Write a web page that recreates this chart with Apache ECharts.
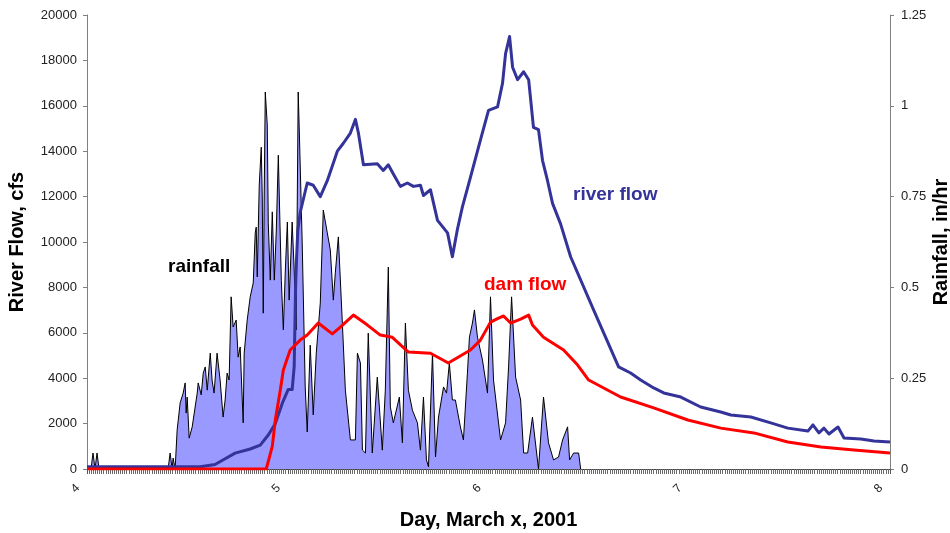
<!DOCTYPE html>
<html>
<head>
<meta charset="utf-8">
<script src="https://cdn.jsdelivr.net/npm/echarts@6/dist/echarts.min.js"></script>
<style>html,body{margin:0;padding:0;background:#fff}#c{width:950px;height:533px}</style>
</head>
<body>
<div id="c"></div>
<script>
// ---- data (day of March 2001, values) ----
const xTicks = [4, 5, 6, 7, 8];
const flowTicks = [0, 2000, 4000, 6000, 8000, 10000, 12000, 14000, 16000, 18000, 20000];
const rainTicks = [0, 0.25, 0.5, 0.75, 1, 1.25];

const rainDays = [4.000,4.020,4.030,4.040,4.050,4.060,4.404,4.414,4.424,4.429,4.439,4.449,4.464,4.479,4.489,4.494,4.499,4.509,4.524,4.549,4.554,4.569,4.579,4.589,4.599,4.614,4.623,4.633,4.648,4.663,4.678,4.688,4.698,4.708,4.718,4.728,4.743,4.753,4.763,4.778,4.783,4.798,4.813,4.828,4.838,4.843,4.848,4.858,4.868,4.873,4.878,4.883,4.888,4.898,4.903,4.913,4.923,4.933,4.943,4.953,4.958,4.968,4.978,4.988,4.998,5.007,5.022,5.032,5.042,5.052,5.057,5.072,5.087,5.097,5.112,5.127,5.142,5.162,5.177,5.197,5.212,5.227,5.237,5.252,5.272,5.287,5.312,5.337,5.347,5.362,5.372,5.387,5.401,5.421,5.446,5.471,5.486,5.501,5.511,5.526,5.556,5.571,5.586,5.601,5.621,5.646,5.661,5.676,5.691,5.701,5.721,5.736,5.751,5.776,5.791,5.805,5.820,5.835,5.860,5.875,5.895,5.905,5.920,5.930,5.945,5.970,5.995,6.010,6.025,6.060,6.085,6.100,6.115,6.135,6.160,6.175,6.195,6.219,6.249,6.274,6.299,6.324,6.349,6.369,6.394,6.404,6.424,6.449,6.459];
const rainValues = [0,0,0.044,0,0.044,0,0,0.044,0,0.030,0,0.107,0.182,0.209,0.237,0.154,0.198,0.085,0.116,0.209,0.237,0.204,0.264,0.281,0.217,0.319,0.245,0.209,0.319,0.245,0.143,0.190,0.264,0.245,0.474,0.391,0.410,0.308,0.336,0.127,0.319,0.410,0.474,0.512,0.650,0.666,0.529,0.782,0.886,0.749,0.429,0.768,1.038,0.947,0.677,0.520,0.708,0.520,0.658,0.864,0.749,0.520,0.383,0.548,0.680,0.465,0.680,0.548,0.383,1.038,0.942,0.622,0.226,0.102,0.341,0.149,0.319,0.457,0.713,0.650,0.603,0.465,0.540,0.639,0.402,0.217,0.080,0.080,0.319,0.292,0.052,0.044,0.374,0.044,0.253,0.052,0.217,0.556,0.171,0.127,0.198,0.072,0.402,0.217,0.162,0.127,0.052,0.198,0.025,0.006,0.319,0.033,0.143,0.226,0.209,0.292,0.190,0.190,0.116,0.080,0.264,0.363,0.402,0.438,0.363,0.300,0.209,0.474,0.245,0.080,0.127,0.281,0.474,0.253,0.190,0.044,0.044,0.143,0,0.198,0.072,0.025,0.033,0.080,0.116,0.025,0.044,0.044,0];

const riverDays = [4.000,4.564,4.638,4.688,4.738,4.813,4.863,4.903,4.938,4.973,5.002,5.022,5.032,5.040,5.050,5.062,5.097,5.127,5.162,5.197,5.247,5.277,5.312,5.337,5.352,5.377,5.446,5.476,5.501,5.526,5.561,5.596,5.626,5.661,5.676,5.711,5.746,5.796,5.820,5.845,5.870,5.910,5.960,6.000,6.045,6.070,6.085,6.105,6.120,6.145,6.175,6.200,6.224,6.249,6.269,6.294,6.319,6.359,6.409,6.524,6.648,6.708,6.758,6.823,6.873,6.958,7.057,7.157,7.207,7.307,7.406,7.491,7.591,7.616,7.646,7.671,7.696,7.741,7.771,7.855,7.920,8.000];
const riverFlow = [100,100,200,450,700,880,1050,1500,2000,2900,3500,3500,4500,8500,10500,11300,12600,12500,12000,12700,14000,14350,14800,15400,14800,13400,13450,13150,13400,13000,12450,12600,12450,12500,12050,12300,10950,10400,9350,10550,11550,12850,14500,15800,15950,17000,18300,19050,17700,17150,17500,17150,15050,14950,13600,12700,11700,10800,9350,7000,4500,4230,3920,3570,3350,3170,2730,2510,2380,2290,2030,1800,1670,1940,1590,1800,1540,1850,1370,1320,1230,1190];

const damDays = [4.000,4.893,4.923,4.938,4.963,4.978,5.012,5.062,5.097,5.152,5.222,5.262,5.327,5.397,5.461,5.521,5.601,5.711,5.800,5.910,5.960,6.010,6.050,6.075,6.110,6.160,6.200,6.219,6.274,6.374,6.444,6.499,6.658,6.823,6.993,7.157,7.322,7.491,7.656,7.820,8.000];
const damFlow = [0,0,1000,2160,3480,4360,5240,5680,5900,6430,5950,6250,6780,6340,5900,5800,5150,5100,4670,5240,5680,6470,6650,6740,6430,6600,6780,6340,5800,5240,4580,3920,3170,2690,2160,1800,1590,1190,970,840,700];

const zip = (a, b) => a.map((v, i) => [v, b[i]]);

const FONT = 'Arial, "Liberation Sans", sans-serif';
const chart = echarts.init(document.getElementById('c'), null, {renderer: 'canvas'});
chart.setOption({
  animation: false,
  backgroundColor: '#ffffff',
  grid: {left: 87, right: 60, top: 15, bottom: 64, containLabel: false, outerBoundsMode: 'none'},
  xAxis: {
    type: 'value', min: xTicks[0], max: xTicks[xTicks.length - 1], interval: 1,
    name: 'Day, March x, 2001', nameLocation: 'middle', nameGap: 41, nameMoveOverlap: false,
    nameTextStyle: {fontFamily: FONT, fontWeight: 'bold', fontSize: 20, color: '#000'},
    axisLine: {onZero: false, lineStyle: {color: '#404040', width: 1}},
    axisTick: {show: true, length: 5, lineStyle: {color: '#555'}},
    minorTick: {show: true, splitNumber: 96, length: 5, lineStyle: {color: '#6a6a6a', width: 1}},
    splitLine: {show: false},
    axisLabel: {rotate: 45, margin: 8, padding: [0, 13, 0, 0], fontFamily: FONT, fontSize: 12, color: '#222',
      formatter: v => String(v)}
  },
  yAxis: [{
    type: 'value', min: flowTicks[0], max: flowTicks[flowTicks.length - 1], interval: 2000, position: 'left',
    name: 'River Flow, cfs', nameLocation: 'middle', nameGap: 60, nameRotate: 90, nameMoveOverlap: false,
    nameTextStyle: {fontFamily: FONT, fontWeight: 'bold', fontSize: 20, color: '#000'},
    axisLine: {show: true, lineStyle: {color: '#808080', width: 1}},
    axisTick: {show: true, length: 4, lineStyle: {color: '#808080'}},
    splitLine: {show: false},
    axisLabel: {margin: 10, fontFamily: FONT, fontSize: 13, color: '#222', formatter: v => String(v)}
  }, {
    type: 'value', min: rainTicks[0], max: rainTicks[rainTicks.length - 1], interval: 0.25, position: 'right',
    name: 'Rainfall, in/hr', nameLocation: 'middle', nameGap: 41, nameRotate: 90, nameMoveOverlap: false,
    nameTextStyle: {fontFamily: FONT, fontWeight: 'bold', fontSize: 20, color: '#000'},
    axisLine: {show: true, lineStyle: {color: '#808080', width: 1}},
    axisTick: {show: true, length: 4, lineStyle: {color: '#808080'}},
    splitLine: {show: false},
    axisLabel: {margin: 11, fontFamily: FONT, fontSize: 13, color: '#222', formatter: v => String(v)}
  }],
  series: [{
    name: 'rainfall', type: 'line', yAxisIndex: 1, data: zip(rainDays, rainValues),
    showSymbol: false, symbol: 'none',
    lineStyle: {color: '#000', width: 1},
    areaStyle: {color: '#9999FF', opacity: 1},
    z: 1
  }, {
    name: 'river flow', type: 'line', yAxisIndex: 0, data: zip(riverDays, riverFlow),
    showSymbol: false, symbol: 'none',
    lineStyle: {color: '#333399', width: 3, join: 'round'},
    z: 2
  }, {
    name: 'dam flow', type: 'line', yAxisIndex: 0, data: zip(damDays, damFlow),
    showSymbol: false, symbol: 'none',
    lineStyle: {color: '#FF0000', width: 3, join: 'round'},
    z: 3
  }],
  graphic: [
    {type: 'text', left: 168, top: 257, z: 10, style: {text: 'rainfall', font: 'bold 19px ' + FONT, fill: '#000'}},
    {type: 'text', left: 573, top: 185, z: 10, style: {text: 'river flow', font: 'bold 19px ' + FONT, fill: '#333399'}},
    {type: 'text', left: 484, top: 275, z: 10, style: {text: 'dam flow', font: 'bold 19px ' + FONT, fill: '#FF0000'}}
  ]
});
</script>
</body>
</html>
